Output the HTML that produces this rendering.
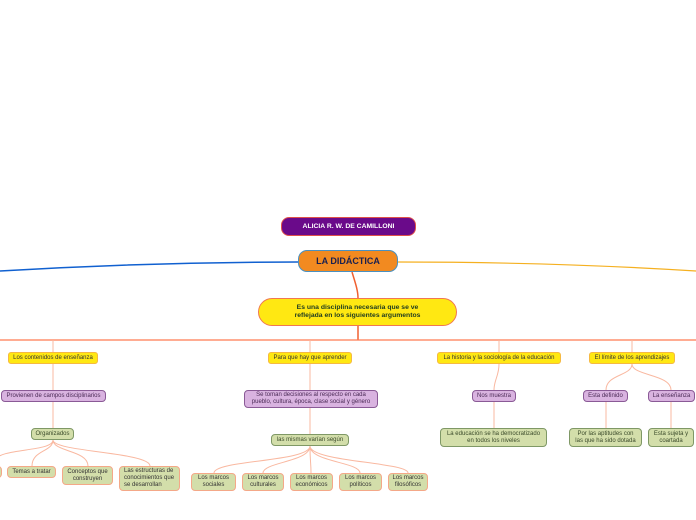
<!DOCTYPE html>
<html><head><meta charset="utf-8"><style>
body{margin:0;width:696px;height:520px;background:#fff;overflow:hidden;position:relative;font-family:"Liberation Sans",sans-serif}
.n{position:absolute;box-sizing:border-box;display:flex;align-items:center;justify-content:center;text-align:center;font-size:6px;line-height:7px;color:#333;white-space:nowrap}
.y{background:#ffe812;border:1px solid #f5b942;border-radius:3px;color:#333}
.p{background:#d9b3e0;border:1px solid #8a5a96;border-radius:4px;color:#4a2a55}
.g{background:#d3deaa;border:1px solid #7f9866;border-radius:4px;color:#3a4a2a}
.o{background:#d3deaa;border:1px solid #f4a888;border-radius:4px;color:#333}
</style></head><body>
<svg width="696" height="520" style="position:absolute;left:0;top:0">
<g fill="none">
<path d="M298,262 C200,262 100,265 0,271" stroke="#1060d0" stroke-width="1.5"/>
<path d="M398,262 C500,262 600,265 696,271" stroke="#f5b020" stroke-width="1.2"/>
<path d="M352,272 C355,282 358,290 358,298" stroke="#f06030" stroke-width="1.5"/>
<path d="M358,326 L358,340" stroke="#f06030" stroke-width="1.5"/>
<path d="M0,340 L696,340" stroke="#ff7a50" stroke-width="1.3"/>
<g stroke="#f9b8a0" stroke-width="1">
<path d="M53,340 V352 M53,364 V390 M53,402 V428"/>
<path d="M310,340 V352 M310,364 V390 M310,408 V434"/>
<path d="M499,340 V352 M499,364 C499,376 494,380 494,390 M494,402 V428"/>
<path d="M632,340 V352 M632,364 C632,376 606,374 606,390 M632,364 C632,376 671,374 671,390 M606,402 V428 M671,402 V428"/>
<path d="M53,440 C53,452 0,448 -5,460 M53,440 C53,452 32,450 32,466 M53,440 C53,452 88,450 88,466 M53,440 C53,452 150,452 150,466"/>
<path d="M310,446 C310,462 214,460 214,473 M310,446 C310,462 263,462 263,473 M310,446 C310,462 311,462 311,473 M310,446 C310,462 360,462 360,473 M310,446 C310,462 408,462 408,473"/>
</g></g></svg>
<div class="n" style="left:281px;top:217px;width:135px;height:19px;background:#6a0a8a;border:1px solid #e0504a;border-radius:8px;color:#fff;font-weight:bold;font-size:6.8px">ALICIA R. W. DE CAMILLONI</div>
<div class="n" style="left:298px;top:250px;width:100px;height:22px;background:#f28a20;border:1px solid #4a90c0;border-radius:9px;color:#1a2050;font-weight:bold;font-size:9px">LA DIDÁCTICA</div>
<div class="n" style="left:258px;top:298px;width:199px;height:28px;background:#ffe812;border:1px solid #f07850;border-radius:14px;color:#1e3a20;font-weight:bold;font-size:6.8px;line-height:8px">Es una disciplina necesaria que se ve<br>reflejada en los siguientes argumentos</div>
<div class="n y" style="left:8px;top:352px;width:90px;height:12px">Los contenidos de enseñanza</div>
<div class="n y" style="left:268px;top:352px;width:84px;height:12px">Para que hay que aprender</div>
<div class="n y" style="left:437px;top:352px;width:124px;height:12px">La historia y la sociología de la educación</div>
<div class="n y" style="left:589px;top:352px;width:86px;height:12px">El límite de los aprendizajes</div>
<div class="n p" style="left:1px;top:390px;width:105px;height:12px">Provienen de campos disciplinarios</div>
<div class="n p" style="left:244px;top:390px;width:134px;height:18px">Se toman decisiones al respecto en cada<br>pueblo, cultura, época, clase social y género</div>
<div class="n p" style="left:472px;top:390px;width:44px;height:12px">Nos muestra</div>
<div class="n p" style="left:583px;top:390px;width:45px;height:12px">Esta definido</div>
<div class="n p" style="left:648px;top:390px;width:47px;height:12px">La enseñanza</div>
<div class="n g" style="left:31px;top:428px;width:43px;height:12px">Organizados</div>
<div class="n g" style="left:271px;top:434px;width:78px;height:12px">las mismas varían según</div>
<div class="n g" style="left:440px;top:428px;width:107px;height:19px">La educación se ha democratizado<br>en todos los niveles</div>
<div class="n g" style="left:569px;top:428px;width:73px;height:19px">Por las aptitudes con<br>las que ha sido dotada</div>
<div class="n g" style="left:648px;top:428px;width:46px;height:19px">Esta sujeta y<br>coartada</div>
<div class="n o" style="left:-10px;top:466px;width:12px;height:12px"></div>
<div class="n o" style="left:7px;top:466px;width:49px;height:12px">Temas a tratar</div>
<div class="n o" style="left:62px;top:466px;width:51px;height:19px">Conceptos que<br>construyen</div>
<div class="n o" style="left:119px;top:466px;width:61px;height:25px;text-align:left;justify-content:flex-start;padding-left:4px">Las estructuras de<br>conocimientos que<br>se desarrollan</div>
<div class="n o" style="left:191px;top:473px;width:45px;height:18px">Los marcos<br>sociales</div>
<div class="n o" style="left:242px;top:473px;width:42px;height:18px">Los marcos<br>culturales</div>
<div class="n o" style="left:290px;top:473px;width:43px;height:18px">Los marcos<br>económicos</div>
<div class="n o" style="left:339px;top:473px;width:43px;height:18px">Los marcos<br>políticos</div>
<div class="n o" style="left:388px;top:473px;width:40px;height:18px">Los marcos<br>filosóficos</div>
</body></html>
